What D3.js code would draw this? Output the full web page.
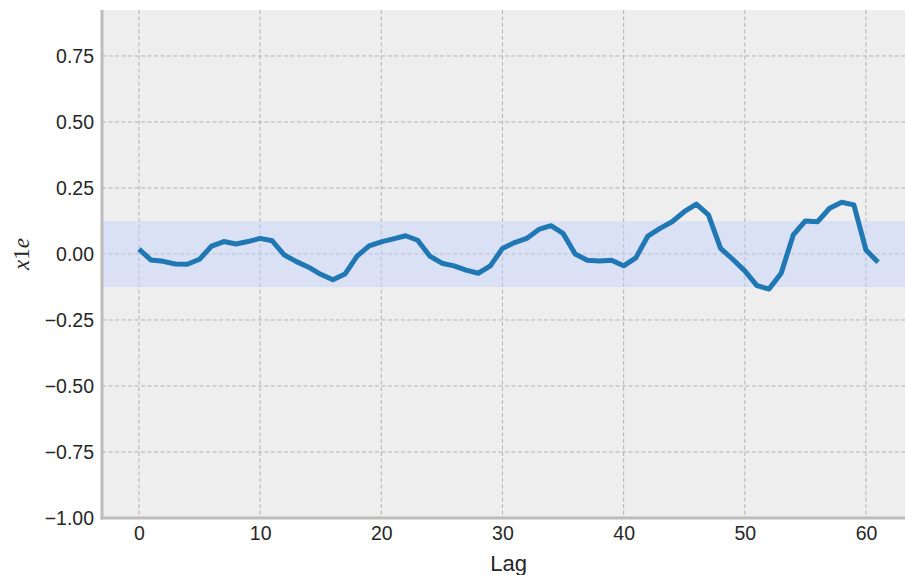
<!DOCTYPE html>
<html><head><meta charset="utf-8">
<script src="https://cdn.jsdelivr.net/npm/d3@7"></script>
<style>body{margin:0;background:#fff}svg{display:block}</style>
</head><body>
<script>
const lags = d3.range(0, 62);
const acf = [0.018,-0.023,-0.028,-0.038,-0.039,-0.020,0.030,0.047,0.038,0.047,
 0.059,0.050,-0.004,-0.029,-0.050,-0.077,-0.098,-0.076,-0.008,0.031,
 0.046,0.057,0.069,0.052,-0.008,-0.035,-0.045,-0.061,-0.073,-0.045,
 0.021,0.043,0.059,0.093,0.107,0.078,0.000,-0.024,-0.027,-0.024,
 -0.045,-0.015,0.068,0.097,0.122,0.160,0.189,0.148,0.021,-0.020,
 -0.064,-0.120,-0.133,-0.073,0.072,0.125,0.122,0.173,0.196,0.186,
 0.015,-0.031];
const confBand = [-0.125, 0.125];
const xTicks = [0,10,20,30,40,50,60];
const yTicks = [-1.00,-0.75,-0.50,-0.25,0.00,0.25,0.50,0.75];
const xLabel = "Lag";
const yLabelParts = [["x","italic"],["1","normal"],["e","italic"]];

const W = 905, H = 575;
const L = 102, T = 10, B = 518;
const svg = d3.select("body").append("svg").attr("width", W).attr("height", H);

const x = d3.scaleLinear().domain([-3.05, 64.05]).range([L, L + 67.1*12.117]);
const y = d3.scaleLinear().domain([-1.0, 0.924]).range([B, T]);

svg.append("rect").attr("x", L).attr("y", T).attr("width", W - L).attr("height", B - T).attr("fill", "#eeeeee");

// grid
const g = svg.append("g");
g.selectAll(".gx").data(xTicks).join("line")
  .attr("x1", d => x(d)).attr("x2", d => x(d)).attr("y1", T).attr("y2", B)
  .attr("stroke", "#b2b2b2").attr("stroke-width", 1).attr("stroke-dasharray", "4,2.5");
g.selectAll(".gy").data(yTicks).join("line")
  .attr("x1", L).attr("x2", W).attr("y1", d => y(d)).attr("y2", d => y(d))
  .attr("stroke", "#b2b2b2").attr("stroke-width", 1).attr("stroke-dasharray", "4,2.5");

// confidence band
svg.append("rect").attr("x", L).attr("width", W - L)
  .attr("y", y(confBand[1])).attr("height", y(confBand[0]) - y(confBand[1]))
  .attr("fill", "#c3d0fa").attr("fill-opacity", 0.45);

// line
svg.append("path").datum(lags.map((l, i) => [l, acf[i]]))
  .attr("d", d3.line().x(d => x(d[0])).y(d => y(d[1])))
  .attr("fill", "none").attr("stroke", "#1f77b4").attr("stroke-width", 5)
  .attr("stroke-linejoin", "round").attr("stroke-linecap", "butt");

// spines
svg.append("line").attr("x1", L).attr("x2", L).attr("y1", T).attr("y2", B + 1.5)
  .attr("stroke", "#bcbcbc").attr("stroke-width", 3);
svg.append("line").attr("x1", L - 1.5).attr("x2", W).attr("y1", B).attr("y2", B)
  .attr("stroke", "#bcbcbc").attr("stroke-width", 3);

// axes
const xAxis = d3.axisBottom(x).tickValues(xTicks).tickFormat(d3.format("d")).tickSize(0).tickPadding(8);
const yAxis = d3.axisLeft(y).tickValues(yTicks).tickFormat(d => d3.format(".2f")(d).replace("-", "\u2212")).tickSize(0).tickPadding(7);
const ax = svg.append("g").attr("transform", `translate(0,${B})`).call(xAxis);
const ay = svg.append("g").attr("transform", `translate(${L - 1},0)`).call(yAxis);
[ax, ay].forEach(a => {
  a.select(".domain").remove();
  a.attr("font-size", null).attr("font-family", null);
  a.selectAll("text").style("font-family", "'Liberation Sans', Arial, sans-serif").style("font-size", "19.5px").attr("fill", "#262626");
});

svg.append("text").attr("x", x(30.5)).attr("y", 571).attr("text-anchor", "middle")
  .style("font-family", "'Liberation Sans', Arial, sans-serif").style("font-size", "22px").attr("fill", "#262626").text(xLabel);
const yl = svg.append("text").attr("transform", `translate(29,${y(0)}) rotate(-90)`).attr("text-anchor", "middle")
  .style("font-family", "'Liberation Serif', 'DejaVu Serif', serif").style("font-size", "23px").attr("fill", "#262626");
yl.selectAll("tspan").data(yLabelParts).join("tspan").attr("font-style", d => d[1]).text(d => d[0]);
</script>
</body></html>
